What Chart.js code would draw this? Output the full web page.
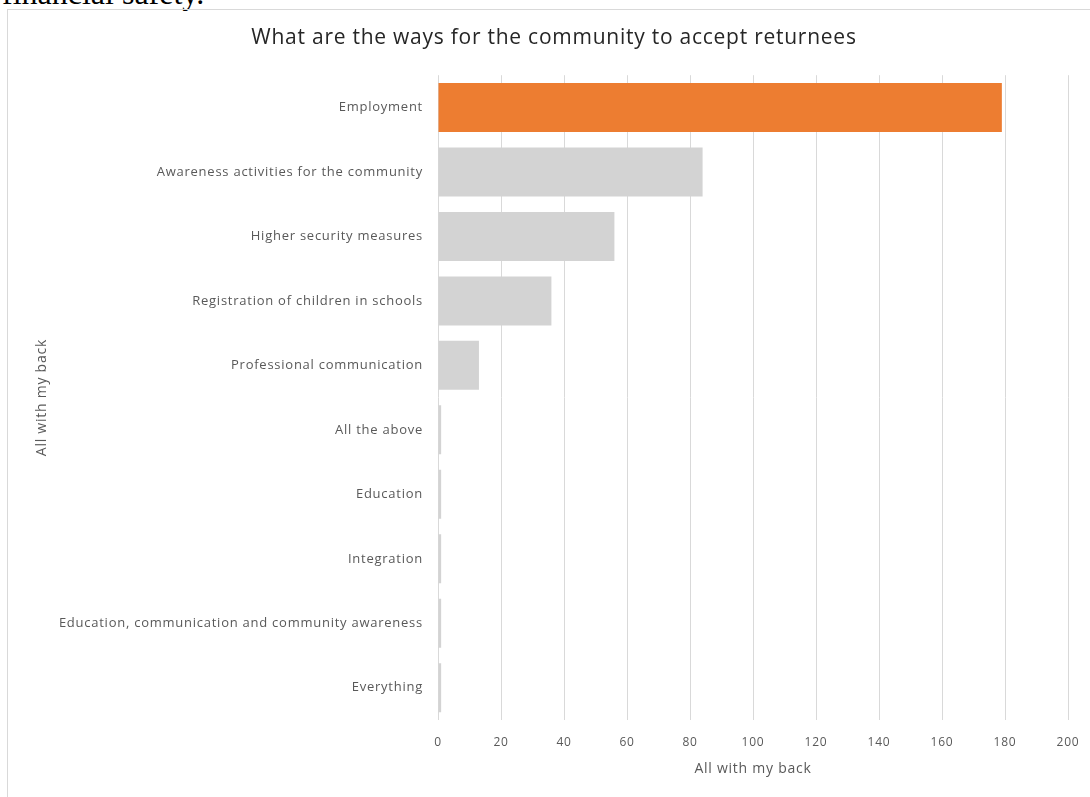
<!DOCTYPE html>
<html>
<head>
<meta charset="utf-8">
<title>Community acceptance of returnees</title>
<script src="https://cdn.jsdelivr.net/npm/chart.js@4/dist/chart.umd.min.js"></script>
<style>
  html, body { margin: 0; padding: 0; background: #fff; overflow: hidden; }
  #page { position: relative; width: 1090px; height: 797px; }
  #docText {
    position: absolute; left: 2px; top: -22px;
    font-family: "Liberation Serif", "Times New Roman", serif;
    font-size: 32px; line-height: 31px; color: #000; white-space: nowrap;
  }
  #frame {
    position: absolute; left: 7px; top: 9px; width: 1100px; height: 800px;
    border-left: 1px solid #d9d9d9; border-top: 1px solid #d9d9d9;
  }
  #chartBox { position: absolute; left: 0; top: 0; width: 1090px; height: 797px; }
</style>
</head>
<body>
<div id="page">
  <div id="docText">financial safety.</div>
  <div id="frame"></div>
  <div id="chartBox"><canvas id="waysChart"></canvas></div>
</div>
<script>
// Survey answers: ways for the community to accept returnees
const categories = [
  'Employment',
  'Awareness activities for the community',
  'Higher security measures',
  'Registration of children in schools',
  'Professional communication',
  'All the above',
  'Education',
  'Integration',
  'Education, communication and community awareness',
  'Everything'
];
const responses = [179, 84, 56, 36, 13, 1, 1, 1, 1, 1];
const xTicks = [0, 20, 40, 60, 80, 100, 120, 140, 160, 180, 200];

const chartTitle = 'What are the ways for the community to accept returnees';
const axisTitle = 'All with my back';

const ORANGE = '#ED7D31';
const GREY = '#D3D3D3';
const TEXT = '#595959';
const FONT = '"Open Sans", "Liberation Sans", sans-serif';

// highlight the top answer, the rest stay grey
const barColors = responses.map((v, i) => i === 0 ? ORANGE : GREY);

// the office-style text is a little wider than Open Sans, so loosen it
const letterSpacingPlugin = {
    id: 'letterSpacing',
    beforeDraw(chart) {
        chart.ctx.letterSpacing = '0.75px';
    }
};

function initWaysChart() {
    const ctx = document.getElementById('waysChart');
    if (!ctx) return;

    Chart.defaults.font.family = FONT;
    Chart.defaults.color = TEXT;

    return new Chart(ctx, {
        type: 'bar',
        data: {
            labels: categories,
            datasets: [{
                label: axisTitle,
                data: responses,
                backgroundColor: barColors,
                borderWidth: 0,
                categoryPercentage: 0.76,
                barPercentage: 1
            }]
        },
        plugins: [letterSpacingPlugin],
        options: {
            indexAxis: 'y',
            responsive: true,
            maintainAspectRatio: false,
            animation: false,
            layout: {
                padding: { top: 16, right: 22, bottom: 0, left: 40 }
            },
            plugins: {
                legend: { display: false },
                tooltip: { enabled: false },
                title: {
                    display: true,
                    text: chartTitle,
                    color: '#262626',
                    font: { size: 21, weight: 'normal' },
                    padding: { top: 9, bottom: 25 }
                }
            },
            scales: {
                x: {
                    min: 0,
                    max: 200,
                    afterBuildTicks: (scale) => {
                        scale.ticks = xTicks.map(v => ({ value: v }));
                    },
                    afterFit: (scale) => {
                        scale.height = 77;
                        // the layout padding already leaves room for the end labels
                        scale.paddingLeft = 0;
                        scale.paddingRight = 0;
                    },
                    grid: {
                        color: '#d9d9d9',
                        lineWidth: 1,
                        drawTicks: false
                    },
                    border: { display: false },
                    ticks: {
                        padding: 15,
                        color: TEXT,
                        font: { size: 12 }
                    },
                    title: {
                        display: true,
                        text: axisTitle,
                        color: TEXT,
                        font: { size: 14 },
                        padding: { top: 0, bottom: 20 }
                    }
                },
                y: {
                    afterFit: (scale) => { scale.width = 398; },
                    grid: { display: false, drawTicks: false },
                    border: { display: false },
                    ticks: {
                        autoSkip: false,
                        padding: 15,
                        color: TEXT,
                        font: { size: 13 }
                    },
                    title: {
                        display: true,
                        text: axisTitle,
                        color: TEXT,
                        font: { size: 14 },
                        padding: { top: -6, bottom: 0 }
                    }
                }
            }
        }
    });
}

document.addEventListener('DOMContentLoaded', function() {
    initWaysChart();
});
</script>
</body>
</html>
